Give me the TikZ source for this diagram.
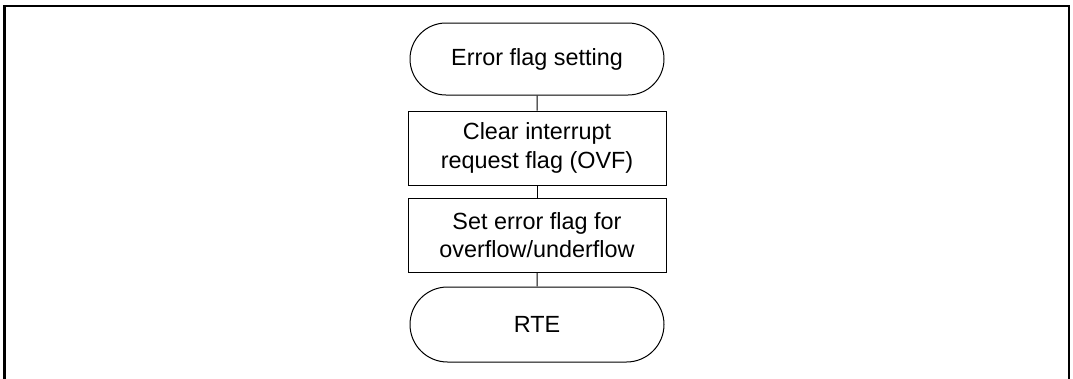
\documentclass[tikz,border=0pt]{standalone}
\usepackage{fontspec}
\setmainfont{Liberation Sans}
\usetikzlibrary{shapes.misc}
\begin{document}
\begin{tikzpicture}[x=1pt,y=-1pt,
  term/.style={draw,line width=1pt,rounded rectangle,minimum width=254pt,minimum height=#1,inner sep=0pt},
  procbox/.style={draw,line width=1pt,rectangle,minimum width=258pt,minimum height=74pt,inner sep=0pt,align=center},
  conn/.style={line width=1pt},
  every node/.style={font=\fontsize{23.4}{28.5}\selectfont}]
\useasboundingbox (0,0) rectangle (1073,378);
\fill[white] (0,0) rectangle (1073,378);
\begin{scope}
\clip (0,0) rectangle (1073,378);
\draw[line width=2.5pt] (4.5,390) -- (4.5,5.8) -- (1069,5.8) -- (1069,390);
\end{scope}
\node[term=72pt] (t1) at (537,59) {Error flag setting};
\node[procbox] (b1) at (537,148) {Clear interrupt\\request flag (OVF)};
\node[procbox] (b2) at (537,235) {Set error flag for\\overflow/underflow};
\node[term=75pt] (t2) at (537,324.5) {RTE};
\draw[conn] (t1) -- (b1);
\draw[conn] (b1) -- (b2);
\draw[conn] (b2) -- (t2);
\end{tikzpicture}
\end{document}
